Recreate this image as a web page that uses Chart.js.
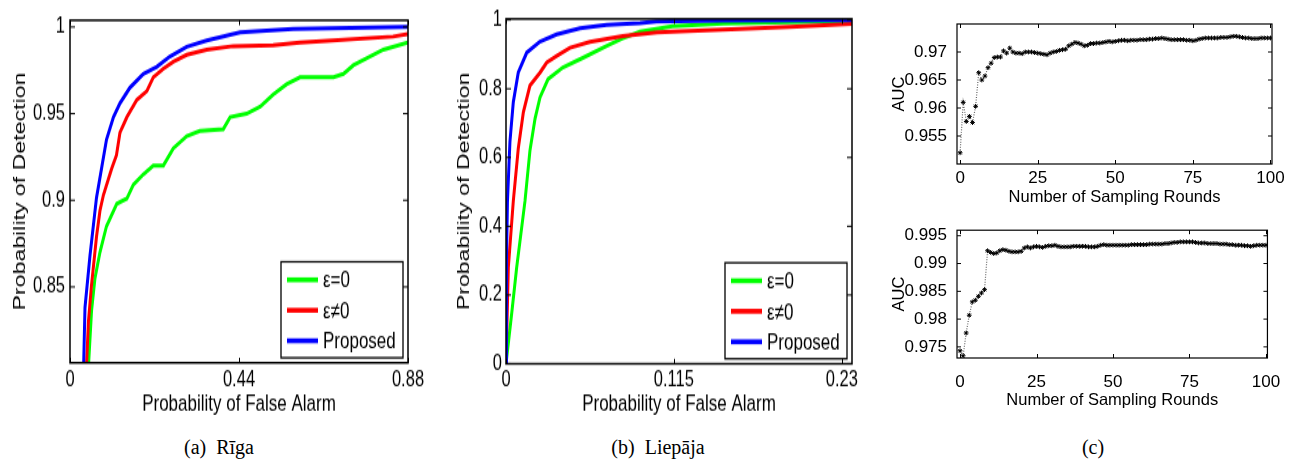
<!DOCTYPE html>
<html>
<head>
<meta charset="utf-8">
<title>ROC / AUC</title>
<script src="https://cdn.jsdelivr.net/npm/chart.js@4.4.1/dist/chart.umd.min.js"></script>
<style>
  html, body { margin: 0; padding: 0; background: #fff; }
  body { width: 1294px; height: 459px; position: relative; overflow: hidden; }
  canvas { position: absolute; }
  /* the ROC panels are stretched vertically in the source figure */
  .tall { transform: scaleY(1.36); transform-origin: 0 0; }
  .cap {
    position: absolute; top: 447px; transform: translate(-50%, -50%);
    font-family: 'Liberation Serif', 'Times New Roman', serif; font-size: 20px;
    color: #000; white-space: pre;
  }
</style>
</head>
<body>
<canvas id="rocRiga" class="tall" width="440" height="316" style="left:0;top:0"></canvas>
<canvas id="rocLiepaja" class="tall" width="440" height="316" style="left:440px;top:0"></canvas>
<canvas id="aucTop" width="414" height="210" style="left:880px;top:0"></canvas>
<canvas id="aucBottom" width="414" height="205" style="left:880px;top:210px"></canvas>
<div class="cap" style="left:219px">(a)  Rīga</div>
<div class="cap" style="left:658px">(b)  Liepāja</div>
<div class="cap" style="left:1093px">(c)</div>

<script>
// ---- ROC curves, [P_fa, P_d] ----
const rigaEps0 = [
  [0.047, 0.800], [0.056, 0.836], [0.065, 0.855], [0.078, 0.870], [0.095, 0.885],
  [0.122, 0.898], [0.148, 0.901], [0.165, 0.909], [0.191, 0.915], [0.217, 0.920],
  [0.243, 0.920], [0.269, 0.930], [0.304, 0.937], [0.338, 0.940], [0.399, 0.941],
  [0.417, 0.948], [0.460, 0.950], [0.495, 0.954], [0.529, 0.961], [0.564, 0.967],
  [0.599, 0.971], [0.686, 0.971], [0.712, 0.973], [0.738, 0.978], [0.772, 0.982],
  [0.816, 0.987], [0.880, 0.991]
];
const rigaEpsN = [
  [0.042, 0.800], [0.048, 0.830], [0.056, 0.851], [0.069, 0.879], [0.078, 0.894],
  [0.087, 0.903], [0.108, 0.918], [0.121, 0.926], [0.130, 0.939], [0.148, 0.948],
  [0.174, 0.958], [0.200, 0.963], [0.217, 0.971], [0.243, 0.976], [0.269, 0.980],
  [0.304, 0.984], [0.356, 0.987], [0.425, 0.989], [0.529, 0.9895], [0.599, 0.991],
  [0.669, 0.992], [0.841, 0.9945], [0.880, 0.996]
];
const rigaProposed = [
  [0.035, 0.800], [0.039, 0.838], [0.052, 0.868], [0.069, 0.9015], [0.078, 0.913],
  [0.095, 0.935], [0.113, 0.948], [0.130, 0.956], [0.156, 0.965], [0.191, 0.973],
  [0.226, 0.977], [0.260, 0.983], [0.304, 0.9886], [0.356, 0.9923], [0.443, 0.997],
  [0.581, 0.999], [0.880, 1.000]
];

const liepajaEps0 = [
  [0, 0], [0.004, 0.15], [0.0073, 0.28], [0.013, 0.473], [0.0164, 0.62], [0.0199, 0.713],
  [0.0233, 0.775], [0.0288, 0.828], [0.039, 0.862], [0.0527, 0.890], [0.0692, 0.925],
  [0.080, 0.947], [0.0918, 0.966], [0.114, 0.982], [0.149, 0.990], [0.1945, 0.994],
  [0.237, 0.997]
];
const liepajaEpsN = [
  [0, 0], [0.0016, 0.28], [0.005, 0.473], [0.0084, 0.626], [0.0119, 0.732], [0.0164, 0.809],
  [0.0233, 0.847], [0.0279, 0.876], [0.0347, 0.895], [0.0438, 0.919], [0.0575, 0.936],
  [0.080, 0.953], [0.1034, 0.964], [0.1486, 0.972], [0.1945, 0.980], [0.237, 0.989]
];
const liepajaProposed = [
  [0, 0], [0.0003, 0.30], [0.001, 0.473], [0.0027, 0.646], [0.005, 0.761], [0.0084, 0.847],
  [0.0142, 0.905], [0.0233, 0.937], [0.0347, 0.958], [0.0507, 0.976], [0.069, 0.986],
  [0.0918, 0.991], [0.103, 0.996], [0.1486, 0.999], [0.237, 1.000]
];

// ---- AUC per sampling round (rounds 0..100) ----
const aucTop = [
  0.9520, 0.9610, 0.9576, 0.9585, 0.9574, 0.9603, 0.9663, 0.9650, 0.9657, 0.9672,
  0.9680, 0.9690, 0.9691, 0.9691, 0.9702, 0.9698, 0.9707, 0.9700, 0.9698, 0.9698,
  0.9697, 0.9700, 0.9700, 0.9700, 0.9699, 0.9698, 0.9697, 0.9696, 0.9695, 0.9698,
  0.9700, 0.9701, 0.9703, 0.9704, 0.9705, 0.9711, 0.9714, 0.9717, 0.9716, 0.9714,
  0.9711, 0.9712, 0.9715, 0.9715, 0.9716, 0.9716, 0.9717, 0.9718, 0.9719, 0.9718,
  0.9719, 0.9720, 0.9721, 0.9721, 0.9720, 0.9721, 0.9721, 0.9721, 0.9722, 0.9722,
  0.9722, 0.9723, 0.9723, 0.9724, 0.9724, 0.9725, 0.9724, 0.9723, 0.9722, 0.9722,
  0.9722, 0.9722, 0.9722, 0.9721, 0.9721, 0.9720, 0.9721, 0.9723, 0.9724, 0.9725,
  0.9725, 0.9725, 0.9725, 0.9725, 0.9726, 0.9726, 0.9726, 0.9727, 0.9728, 0.9728,
  0.9727, 0.9726, 0.9725, 0.9725, 0.9724, 0.9724, 0.9724, 0.9725, 0.9725, 0.9725,
  0.9725
];
const aucBottom = [
  0.9743, 0.9734, 0.9775, 0.9807, 0.9831, 0.9834, 0.9841, 0.9847, 0.9853, 0.9923,
  0.9920, 0.9918, 0.9919, 0.9923, 0.9925, 0.9924, 0.9922, 0.9921, 0.9921, 0.9921,
  0.9922, 0.9928, 0.9930, 0.9928, 0.9930, 0.9931, 0.9930, 0.9929, 0.9931, 0.9932,
  0.9932, 0.9933, 0.9931, 0.9930, 0.9930, 0.9930, 0.9930, 0.9931, 0.9931, 0.9931,
  0.9931, 0.9931, 0.9930, 0.9930, 0.9930, 0.9931, 0.9933, 0.9934, 0.9933, 0.9933,
  0.9933, 0.9933, 0.9933, 0.9933, 0.9933, 0.9933, 0.9934, 0.9934, 0.9934, 0.9934,
  0.9934, 0.9934, 0.9935, 0.9935, 0.9935, 0.9935, 0.9935, 0.9936, 0.9936, 0.9937,
  0.9938, 0.9938, 0.9939, 0.9939, 0.9939, 0.9939, 0.9939, 0.9938, 0.9937, 0.9937,
  0.9937, 0.9936, 0.9936, 0.9936, 0.9936, 0.9935, 0.9935, 0.9935, 0.9934, 0.9934,
  0.9933, 0.9933, 0.9933, 0.9932, 0.9932, 0.9931, 0.9932, 0.9933, 0.9933, 0.9933,
  0.9933
];

const seriesNames = ['ε=0', 'ε≠0', 'Proposed'];
const seriesColors = ['#00ff00', '#ff0000', '#0000ff'];

const rigaXTicks = [0, 0.44, 0.88];
const rigaYTicks = [0.85, 0.9, 0.95, 1];
const liepajaXTicks = [0, 0.115, 0.23];
const liepajaYTicks = [0, 0.2, 0.4, 0.6, 0.8, 1];
const roundTicks = [0, 25, 50, 75, 100];
const aucTopTicks = [0.955, 0.96, 0.965, 0.97];
const aucBottomTicks = [0.975, 0.98, 0.985, 0.99, 0.995];

const SANS = "'Liberation Sans', Arial, sans-serif";
const STRETCH = 1.36; // vertical stretch of the ROC canvases (see .tall)

// matlab style box: frame + inward ticks on all four sides
const boxTicks = {
  id: 'boxTicks',
  afterDatasetsDraw(chart, args, opts) {
    const { ctx, chartArea: a, scales: { x, y } } = chart;
    const lenX = opts.lenX || 5, lenY = opts.lenY || 5;
    ctx.save();
    ctx.strokeStyle = '#000';
    ctx.lineWidth = 1;
    ctx.beginPath();
    x.ticks.forEach(t => {
      const px = Math.round(x.getPixelForValue(t.value)) + 0.5;
      ctx.moveTo(px, a.bottom); ctx.lineTo(px, a.bottom - lenX);
      ctx.moveTo(px, a.top); ctx.lineTo(px, a.top + lenX);
    });
    y.ticks.forEach(t => {
      const py = y.getPixelForValue(t.value);
      ctx.moveTo(a.left, py); ctx.lineTo(a.left + lenY, py);
      ctx.moveTo(a.right, py); ctx.lineTo(a.right - lenY, py);
    });
    ctx.stroke();
    ctx.lineWidth = opts.frame || 1.5;
    ctx.strokeRect(a.left, a.top, a.right - a.left, a.bottom - a.top);
    ctx.restore();
  }
};

// legend box in the lower right corner of the plot
const boxLegend = {
  id: 'boxLegend',
  afterDraw(chart, args, opts) {
    if (!opts.show) return;
    const { ctx, chartArea: a } = chart;
    const k = opts.stretch || 1;
    const w = 122, h = 96 / k;
    const bx = a.right - 5 - w, by = a.bottom - 5 / k - h;
    ctx.save();
    ctx.fillStyle = '#fff';
    ctx.fillRect(bx, by, w, h);
    ctx.strokeStyle = '#000';
    ctx.lineWidth = 1.3;
    ctx.strokeRect(bx, by, w, h);
    ctx.font = '17px ' + SANS;
    ctx.textBaseline = 'middle';
    chart.data.datasets.forEach((ds, i) => {
      const ry = by + (18 + i * 30.5) / k;
      ctx.strokeStyle = ds.borderColor;
      ctx.lineWidth = 3.6;
      ctx.beginPath();
      ctx.moveTo(bx + 6, ry); ctx.lineTo(bx + 37, ry);
      ctx.stroke();
      ctx.fillStyle = '#000';
      ctx.fillText(ds.label, bx + 42, ry + 1);
    });
    ctx.restore();
  }
};

function axis(o) {
  return {
    type: 'linear',
    min: o.min,
    max: o.max,
    grid: { display: false, drawTicks: false },
    border: { display: false },
    afterBuildTicks: s => { s.ticks = o.ticks.map(v => ({ value: v })); },
    afterFit: s => {
      if (o.width != null) s.width = o.width;
      if (o.height != null) s.height = o.height;
    },
    ticks: {
      autoSkip: false, maxRotation: 0, padding: o.tickPad, color: '#000',
      font: { family: SANS, size: o.tickSize },
      callback: v => String(v)
    },
    title: {
      display: true, text: o.title, color: '#000',
      font: { family: SANS, size: o.titleSize },
      padding: o.titlePad
    }
  };
}

function rocChart(id, curves, g) {
  const k = STRETCH;
  return new Chart(document.getElementById(id), {
    type: 'line',
    data: {
      datasets: curves.map((pts, i) => ({
        label: seriesNames[i],
        data: pts.map(([x, y]) => ({ x, y })),
        borderColor: seriesColors[i],
        borderWidth: 3,
        pointRadius: 0,
        tension: 0,
        fill: false,
        clip: 0,
        order: curves.length - i
      }))
    },
    options: {
      responsive: false,
      devicePixelRatio: 1,
      animation: false,
      layout: { padding: { left: 0, top: g.top / k, right: g.right, bottom: 0 } },
      plugins: {
        legend: { display: false },
        tooltip: { enabled: false },
        boxTicks: { lenX: 5 / k, lenY: 5, frame: 1.5 },
        boxLegend: { show: true, stretch: k }
      },
      scales: {
        x: axis({ min: g.xMin, max: g.xMax, ticks: g.xTicks, height: g.xH / k, tickPad: g.xTickPad,
                  tickSize: 16.5, title: 'Probability of False Alarm', titleSize: 17,
                  titlePad: { top: 0, bottom: g.xTitlePad } }),
        y: axis({ min: g.yMin, max: g.yMax, ticks: g.yTicks, width: g.yW, tickPad: g.yTickPad,
                  tickSize: 16.5, title: 'Probability of Detection', titleSize: 17,
                  titlePad: { top: g.yTitlePad, bottom: 0 } })
      }
    },
    plugins: [boxTicks, boxLegend]
  });
}

function aucChart(id, values, g) {
  return new Chart(document.getElementById(id), {
    type: 'line',
    data: {
      labels: values.map((_, i) => i),
      datasets: [{
        label: 'AUC',
        data: values,
        borderColor: '#666',
        borderWidth: 1.2,
        borderDash: [1, 1.5],
        pointStyle: 'star',
        pointRadius: 2.4,
        pointBorderColor: '#000',
        pointBackgroundColor: '#000',
        pointBorderWidth: 1,
        tension: 0,
        fill: false
      }]
    },
    options: {
      responsive: false,
      devicePixelRatio: 1,
      animation: false,
      layout: { padding: g.pad },
      plugins: {
        legend: { display: false },
        tooltip: { enabled: false },
        boxTicks: { lenX: 4, lenY: 4, frame: 1.2 }
      },
      scales: {
        x: axis({ min: -1, max: 100.5, ticks: roundTicks, height: g.xH, tickPad: g.xTickPad,
                  tickSize: 17, title: 'Number of Sampling Rounds', titleSize: 16.5,
                  titlePad: { top: 0, bottom: g.xTitlePad } }),
        y: axis({ min: g.yMin, max: g.yMax, ticks: g.yTicks, width: 77, tickPad: 10,
                  tickSize: 17, title: 'AUC', titleSize: 16.5,
                  titlePad: { top: 10, bottom: 0 } })
      }
    },
    plugins: [boxTicks]
  });
}

// screen-pixel geometry; vertical values are divided by STRETCH inside rocChart
rocChart('rocRiga', [rigaEps0, rigaEpsN, rigaProposed], {
  top: 11, right: 32,
  xMin: 0, xMax: 0.88, xTicks: rigaXTicks, xH: 430 - 363, xTickPad: 3, xTitlePad: 8,
  yMin: 0.8062, yMax: 1.0039, yTicks: rigaYTicks, yW: 70, yTickPad: 5, yTitlePad: 9.8
});

rocChart('rocLiepaja', [liepajaEps0, liepajaEpsN, liepajaProposed], {
  top: 16, right: 28,
  xMin: 0, xMax: 0.237, xTicks: liepajaXTicks, xH: 430 - 364, xTickPad: 2.3, xTitlePad: 8,
  yMin: 0, yMax: 1.003, yTicks: liepajaYTicks, yW: 66, yTickPad: 4, yTitlePad: 14.3
});

aucChart('aucTop', aucTop, {
  pad: { left: 0, top: 24, right: 22, bottom: 0 },
  xH: 46, xTickPad: 3.8, xTitlePad: 3.1,
  yMin: 0.95, yMax: 0.975, yTicks: aucTopTicks
});

aucChart('aucBottom', aucBottom, {
  pad: { left: 0, top: 17, right: 22, bottom: 0 },
  xH: 57, xTickPad: 13.8, xTitlePad: 5.1,
  yMin: 0.973, yMax: 0.996, yTicks: aucBottomTicks
});
</script>
</body>
</html>
